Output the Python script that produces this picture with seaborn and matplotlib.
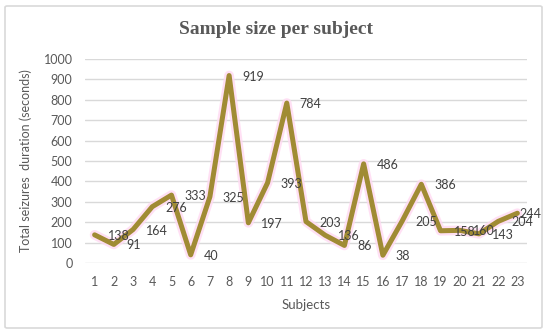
import seaborn as sns
import matplotlib.pyplot as plt
import matplotlib.patheffects as pe
from matplotlib.patches import FancyBboxPatch
import pandas as pd

subjects = list(range(1, 24))
durations = [138, 91, 164, 276, 333, 40, 325, 919, 197, 393, 784, 203,
             136, 86, 486, 38, 205, 386, 158, 160, 143, 204, 244]
y_ticks = [0, 100, 200, 300, 400, 500, 600, 700, 800, 900, 1000]

df = pd.DataFrame({"subject": subjects, "duration": durations})

sns.set_style("white")
plt.rcParams['font.family'] = ['Lato', 'DejaVu Sans']

fig = plt.figure(figsize=(5.5, 3.34), dpi=100)
fig.patches.append(FancyBboxPatch((5 / 550, 6 / 334), 537 / 550, 322 / 334,
                                  boxstyle="round,pad=0,rounding_size=0.004",
                                  transform=fig.transFigure, fill=False,
                                  edgecolor="#d9d9d9", linewidth=1.2))
ax = fig.add_axes([85 / 550, 71 / 334, 442 / 550, 204 / 334])

sns.lineplot(data=df, x="subject", y="duration", ax=ax, color="#a08b34",
             linewidth=3.6, solid_joinstyle="round", solid_capstyle="round",
             path_effects=[pe.Stroke(linewidth=7, foreground="#ffd9f2", alpha=0.8,
                                     joinstyle="round"),
                           pe.Normal()])

# data labels to the right of each point; the last one is pulled in to fit the frame
for i, (x, y) in enumerate(zip(subjects, durations)):
    dx = 2 if i == len(subjects) - 1 else 13
    ax.annotate(str(y), (x, y), xytext=(dx, -1), textcoords="offset pixels",
                ha="left", va="center", fontsize=9, color="#404040")

ax.set_xlim(0.5, 23.5)
ax.set_ylim(0, 1000)
ax.set_xticks(subjects)
ax.set_yticks(y_ticks)
ax.tick_params(axis="both", length=0, labelsize=9, labelcolor="#595959", pad=9)
ax.grid(axis="y", color="#d9d9d9", linewidth=1)
ax.set_axisbelow(True)
for s in ax.spines.values():
    s.set_visible(False)

ax.set_xlabel("Subjects", fontsize=9.5, color="#595959", labelpad=8)
ax.set_ylabel("Total seizures  duration (seconds)", fontsize=9, color="#595959", labelpad=8)
fig.text(276 / 550, 1 - 29 / 334, "Sample size per subject", ha="center", va="center",
         fontsize=14, fontweight="bold", color="#595959", family="Liberation Serif")

fig.savefig("out.png", dpi=100)
plt.close()
